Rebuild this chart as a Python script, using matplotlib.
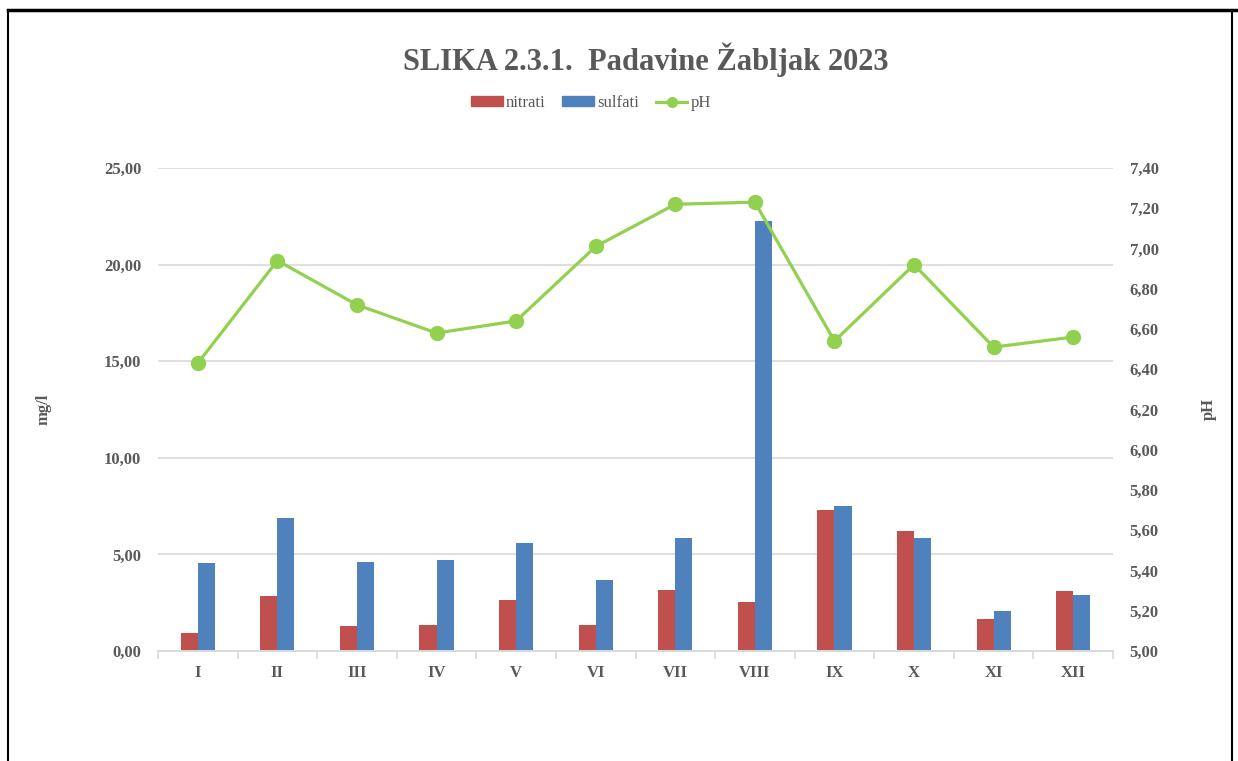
import matplotlib.pyplot as plt
import matplotlib.ticker as mticker
from matplotlib.lines import Line2D
import numpy as np

plt.rcParams['font.family'] = ['Liberation Serif', 'DejaVu Serif']

months = ["I", "II", "III", "IV", "V", "VI", "VII", "VIII", "IX", "X", "XI", "XII"]
nitrati = [0.93, 2.85, 1.29, 1.35, 2.64, 1.35, 3.16, 2.54, 7.30, 6.23, 1.64, 3.11]
sulfati = [4.54, 6.87, 4.59, 4.71, 5.59, 3.69, 5.85, 22.26, 7.50, 5.85, 2.09, 2.90]
ph = [6.43, 6.94, 6.72, 6.58, 6.64, 7.01, 7.22, 7.23, 6.54, 6.92, 6.51, 6.56]

red = "#C0504D"
blue = "#4F81BD"
green = "#92D050"
txt = "#595959"
grid = "#D9D9D9"

fig = plt.figure(figsize=(12.38, 7.61), dpi=100)
ax = fig.add_axes([158 / 1238, 1 - 651 / 761, 955 / 1238, 483 / 761])
ax2 = ax.twinx()

x = np.arange(len(months))
w = 0.215
ax.bar(x - w / 2, nitrati, w, color=red, label="nitrati", zorder=2)
ax.bar(x + w / 2, sulfati, w, color=blue, label="sulfati", zorder=2)
ax2.plot(x, ph, color=green, lw=2.3, marker="o", ms=10, label="pH", zorder=3)

ax.set_xlim(-0.5, len(months) - 0.5)
ax.set_ylim(0, 25)
ax.yaxis.set_major_locator(mticker.MultipleLocator(5))
ax2.set_ylim(5.0, 7.4)
ax2.yaxis.set_major_locator(mticker.MultipleLocator(0.2))

fmt = lambda v, p: f"{v:.2f}".replace(".", ",")
ax.yaxis.set_major_formatter(mticker.FuncFormatter(fmt))
ax2.yaxis.set_major_formatter(mticker.FuncFormatter(fmt))

ax.grid(axis="y", color=grid, lw=1.2, zorder=0)
ax.set_axisbelow(True)
for a in (ax, ax2):
    for s in ("top", "left", "right"):
        a.spines[s].set_visible(False)
    a.spines["bottom"].set_color(grid)
    a.spines["bottom"].set_linewidth(1.2)

ax.set_xticks(x)
ax.set_xticklabels(months, fontsize=12, fontweight="bold", color=txt)
ax.tick_params(axis="x", length=0, pad=10)
ax.set_xticks(np.arange(-0.5, len(months)), minor=True)
ax.tick_params(axis="x", which="minor", length=6, color=grid, width=1.2)
ax.tick_params(axis="y", length=0, labelsize=12, labelcolor=txt, pad=12)
ax2.tick_params(axis="y", length=0, labelsize=12, labelcolor=txt, pad=12)
for lab in ax.get_yticklabels() + ax2.get_yticklabels():
    lab.set_fontweight("bold")

ax.set_ylabel("mg/l", fontsize=12, fontweight="bold", color=txt)
ax.yaxis.set_label_coords(-0.111, 0.5)
ax2.set_ylabel("pH", fontsize=12, fontweight="bold", color=txt)
ax2.yaxis.set_label_coords(1.092, 0.5)

fig.text(0.522, 1 - 60 / 761, "SLIKA 2.3.1.  Padavine Žabljak 2023", ha="center", va="center",
         fontsize=22, fontweight="bold", color=txt)

handles = [plt.Rectangle((0, 0), 1, 1, color=red), plt.Rectangle((0, 0), 1, 1, color=blue),
           Line2D([], [], color=green, lw=2.3, marker="o", ms=7)]
fig.legend(handles, ["nitrati", "sulfati", "pH"], loc="center", bbox_to_anchor=(591 / 1238, 1 - 103 / 761),
           ncol=3, frameon=False, fontsize=12, handlelength=1.9, handleheight=0.5, columnspacing=1.0,
           handletextpad=0.2, labelcolor=txt)

# frame around the chart
fig.add_artist(Line2D([8 / 1238, 8 / 1238], [0, 1 - 10 / 761], transform=fig.transFigure, color="black", lw=1.5))
fig.add_artist(Line2D([8 / 1238, 1], [1 - 10 / 761, 1 - 10 / 761], transform=fig.transFigure, color="black", lw=2.5))
fig.add_artist(Line2D([1232 / 1238, 1232 / 1238], [0, 1 - 10 / 761], transform=fig.transFigure, color="black", lw=1.5))

fig.savefig("out.png", dpi=100)
